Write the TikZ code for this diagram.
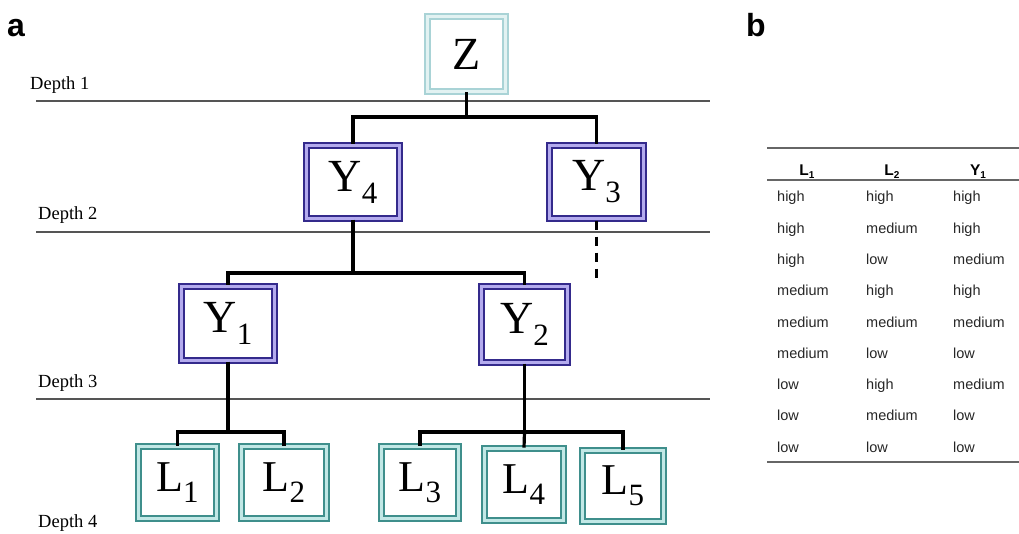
\documentclass[tikz,border=0pt]{standalone}
\usepackage{fontspec}
\setmainfont{Liberation Serif}
\newfontfamily\tabfont{Liberation Sans}
\usetikzlibrary{positioning}
\definecolor{ypur}{HTML}{342A8C}
\definecolor{ylav}{HTML}{B4ABEE}
\definecolor{lteal}{HTML}{3F8F8C}
\definecolor{lcyan}{HTML}{C2E8E6}
\definecolor{zteal}{HTML}{A9D3D6}
\definecolor{zpale}{HTML}{E2F2F2}
\definecolor{rulegray}{HTML}{555555}
\newcommand{\sublab}[3]{#1\raisebox{-#3pt}{\fontsize{31}{31}\selectfont #2}}
\tikzset{
  ybox/.style={draw=ypur, line width=2.2pt, double=ylav, double distance=2.6pt, fill=white, inner sep=0pt, font=\fontsize{46}{46}\selectfont},
  lbox/.style={draw=lteal, line width=1.6pt, double=lcyan, double distance=3.2pt, fill=white, inner sep=0pt, font=\fontsize{44}{44}\selectfont},
  zbox/.style={draw=zteal, line width=1.6pt, double=zpale, double distance=3pt, fill=white, inner sep=0pt, font=\fontsize{46}{46}\selectfont},
  conn/.style={line width=3.2pt, black},
  depthline/.style={line width=1.3pt, rulegray},
  depthlab/.style={anchor=base west, inner sep=0pt, font=\fontsize{18.5}{18.5}\selectfont, text=black},
  trule/.style={line width=2pt, black!60},
  tcell/.style={anchor=base west, inner sep=0pt, font=\tabfont\fontsize{14.5}{14.5}\selectfont, text=black!85},
  thead/.style={anchor=base, inner sep=0pt, font=\tabfont\bfseries\fontsize{15.5}{15.5}\selectfont},
  panel/.style={anchor=base west, inner sep=0pt, font=\tabfont\bfseries\fontsize{32}{32}\selectfont}
}
\begin{document}
\begin{tikzpicture}[x=1pt,y=-1pt]
\useasboundingbox (0,0) rectangle (1019,534);
% panel labels
\node[panel] (pa) at (7,37) {a};
\node[panel] (pb) at (746,37) {b};
% depth lines and labels
\draw[depthline] (36,101) coordinate (d1a) -- (710,101) coordinate (d1b);
\draw[depthline] (36,232) coordinate (d2a) -- (710,232) coordinate (d2b);
\draw[depthline] (36,399) coordinate (d3a) -- (710,399) coordinate (d3b);
\node[depthlab] (dl1) at (30,90) {Depth 1};
\node[depthlab] (dl2) at (38,220) {Depth 2};
\node[depthlab] (dl3) at (38,387) {Depth 3};
\node[depthlab] (dl4) at (38,527) {Depth 4};
% nodes
\node[zbox, minimum width=78pt, minimum height=75pt] (Z) at (466.5,54) {Z};
\node[ybox, minimum width=93pt, minimum height=73pt] (Y4) at (353,182) {\sublab{Y}{4}{12}};
\node[ybox, minimum width=94pt, minimum height=73pt] (Y3) at (596.5,182) {\sublab{Y}{3}{12}};
\node[ybox, minimum width=93pt, minimum height=74pt] (Y1) at (228,323.5) {\sublab{Y}{1}{12}};
\node[ybox, minimum width=86pt, minimum height=76pt] (Y2) at (524.5,324.5) {\sublab{Y}{2}{12}};
\node[lbox, minimum width=78pt, minimum height=72pt] (L1) at (177.5,482.5) {\sublab{L}{1}{11}};
\node[lbox, minimum width=85pt, minimum height=72pt] (L2) at (284,482.5) {\sublab{L}{2}{11}};
\node[lbox, minimum width=77pt, minimum height=72pt] (L3) at (420,482.5) {\sublab{L}{3}{11}};
\node[lbox, minimum width=79pt, minimum height=72pt] (L4) at (524,484.5) {\sublab{L}{4}{11}};
\node[lbox, minimum width=81pt, minimum height=71pt] (L5) at (623,486) {\sublab{L}{5}{11}};
% connectors
\draw[conn] (Z.south) -- (Z.south |- 0,117) -| (Y4.north);
\draw[conn] (Z.south |- 0,117) -| (Y3.north);
\draw[conn] (Y4.south) -- (Y4.south |- 0,273) -| (Y1.north);
\draw[conn] (Y4.south |- 0,273) -| (Y2.north);
\coordinate (Y3end) at (596.5,284);
\draw[conn, dash pattern=on 9pt off 7pt] ([yshift=-1pt]Y3.south) -- (Y3end);
\draw[conn] (Y1.south) -- (Y1.south |- 0,432) -| (L1.north);
\draw[conn] (Y1.south |- 0,432) -| (L2.north);
\draw[conn] (Y2.south) -- (Y2.south |- 0,432) -| (L3.north);
\draw[conn] (Y2.south |- 0,432) -- (L4.north);
\draw[conn] (Y2.south |- 0,432) -| (L5.north);
% table
\draw[trule] (767,148) coordinate (r1a) -- (1019,148) coordinate (r1b);
\draw[trule] (767,180) coordinate (r2a) -- (1019,180) coordinate (r2b);
\draw[trule, line width=2.6pt] (767,462) coordinate (r3a) -- (1019,462) coordinate (r3b);
\node[thead] (h1) at (807,176) {L\raisebox{-3pt}{\fontsize{10}{10}\selectfont 1}};
\node[thead] (h2) at (892,176) {L\raisebox{-3pt}{\fontsize{10}{10}\selectfont 2}};
\node[thead] (h3) at (978,176) {Y\raisebox{-3pt}{\fontsize{10}{10}\selectfont 1}};
\foreach \a/\b/\c [count=\i from 0] in {high/high/high, high/medium/high, high/low/medium, medium/high/high, medium/medium/medium, medium/low/low, low/high/medium, low/medium/low, low/low/low}{
  \node[tcell] (c1-\i) at (777,202+31.25*\i) {\a};
  \node[tcell] (c2-\i) at (866,202+31.25*\i) {\b};
  \node[tcell] (c3-\i) at (953,202+31.25*\i) {\c};
}
\end{tikzpicture}
\end{document}
